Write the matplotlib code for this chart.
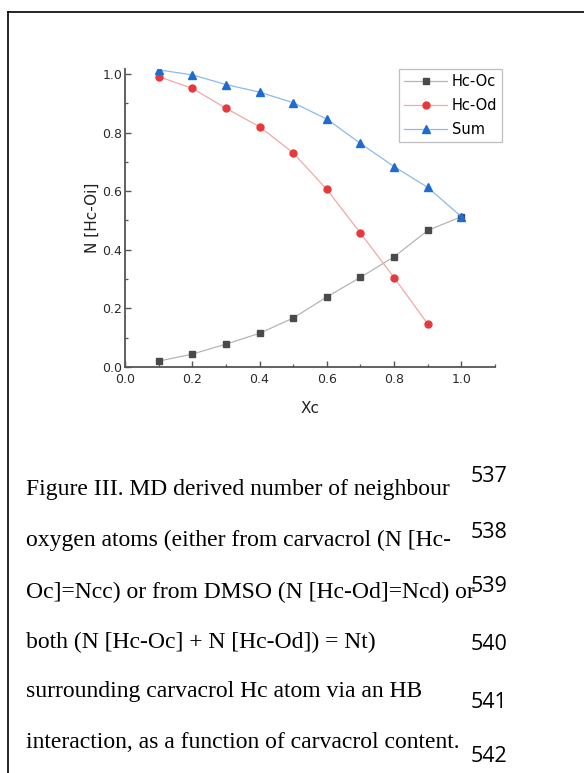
import matplotlib
matplotlib.use("Agg")
import matplotlib.pyplot as plt
from matplotlib.ticker import MultipleLocator
from matplotlib.lines import Line2D

xc = [0.1, 0.2, 0.3, 0.4, 0.5, 0.6, 0.7, 0.8, 0.9, 1.0]
hc_oc = [0.020, 0.044, 0.078, 0.115, 0.167, 0.239, 0.306, 0.376, 0.466, 0.513]
xc_od = [0.1, 0.2, 0.3, 0.4, 0.5, 0.6, 0.7, 0.8, 0.9]
hc_od = [0.991, 0.951, 0.883, 0.820, 0.731, 0.606, 0.457, 0.305, 0.147]
hc_sum = [1.014, 0.997, 0.964, 0.938, 0.902, 0.846, 0.763, 0.684, 0.613, 0.513]

series_names = ["Hc-Oc", "Hc-Od", "Sum"]
x_label = "Xc"
y_label = "N [Hc-Oi]"
tick_vals = [0.0, 0.2, 0.4, 0.6, 0.8, 1.0]
tick_labels = ["0.0", "0.2", "0.4", "0.6", "0.8", "1.0"]

caption_lines = [
    "Figure III. MD derived number of neighbour",
    "oxygen atoms (either from carvacrol (N [Hc-",
    "Oc]=Ncc) or from DMSO (N [Hc-Od]=Ncd) or",
    "both (N [Hc-Oc] + N [Hc-Od]) = Nt)",
    "surrounding carvacrol Hc atom via an HB",
    "interaction, as a function of carvacrol content.",
]
line_numbers = ["537", "538", "539", "540", "541", "542"]

W, H = 584, 773
fig = plt.figure(figsize=(W / 100, H / 100), dpi=100)

# page border (left and top rules)
fig.add_artist(Line2D([8 / W, 8 / W], [0, 1 - 12 / H], color="black", lw=1.2, transform=fig.transFigure))
fig.add_artist(Line2D([8 / W, 1], [1 - 12 / H, 1 - 12 / H], color="black", lw=1.2, transform=fig.transFigure))

ax = fig.add_axes([125 / W, 1 - 367 / H, 370 / W, 298 / H])

ax.plot(xc, hc_oc, color="#b5b5b5", lw=0.9, marker="s", ms=4.4,
        mfc="#4a4a4a", mec="#4a4a4a", label=series_names[0], zorder=3)
ax.plot(xc_od, hc_od, color="#f0a8a8", lw=0.9, marker="o", ms=5.0,
        mfc="#e8383a", mec="#e8383a", label=series_names[1], zorder=3)
ax.plot(xc, hc_sum, color="#8cbbe8", lw=0.9, marker="^", ms=5.4,
        mfc="#1f6cd0", mec="#1f6cd0", label=series_names[2], zorder=4)

ax.set_xlim(0, 1.1)
ax.set_ylim(0, 1.017)
ax.xaxis.set_minor_locator(MultipleLocator(0.1))
ax.yaxis.set_minor_locator(MultipleLocator(0.1))
ax.set_xticks(tick_vals)
ax.set_xticklabels(tick_labels)
ax.set_yticks(tick_vals)
ax.set_yticklabels(tick_labels)

for s in ["top", "right"]:
    ax.spines[s].set_visible(False)
for s in ["left", "bottom"]:
    ax.spines[s].set_color("#555555")
    ax.spines[s].set_linewidth(1.3)
ax.tick_params(which="major", direction="in", length=4, width=1.0, color="#555555",
               labelsize=9, labelcolor="#2a2a2a")
ax.tick_params(axis="x", which="major", pad=4)
ax.tick_params(axis="y", which="major", pad=2)
ax.tick_params(which="minor", direction="in", length=2.5, width=0.9, color="#555555")

ax.set_xlabel(x_label, fontsize=11, color="#222222", labelpad=11)
ax.set_ylabel(y_label, fontsize=11, color="#222222", labelpad=2)

leg = ax.legend(loc="upper right", bbox_to_anchor=(1.02, 1.0), fontsize=10.5,
                frameon=True, fancybox=False, edgecolor="#b0b0b0",
                handlelength=3.0, borderpad=0.35, labelspacing=0.6, handletextpad=0.3,
                borderaxespad=0.0)
leg.get_frame().set_linewidth(0.9)

# caption
cap_y = [490, 540, 592, 642, 692, 742]
for txt, yy in zip(caption_lines, cap_y):
    fig.text(26 / W, 1 - yy / H, txt, fontsize=17, family="Liberation Serif",
             ha="left", va="center", color="black")
num_y = [477, 532, 587, 645, 702, 757]
for txt, yy in zip(line_numbers, num_y):
    fig.text(489 / W, 1 - yy / H, txt, fontsize=15.5, family="Open Sans",
             ha="center", va="center", color="black")

fig.savefig("out.png", dpi=100)
